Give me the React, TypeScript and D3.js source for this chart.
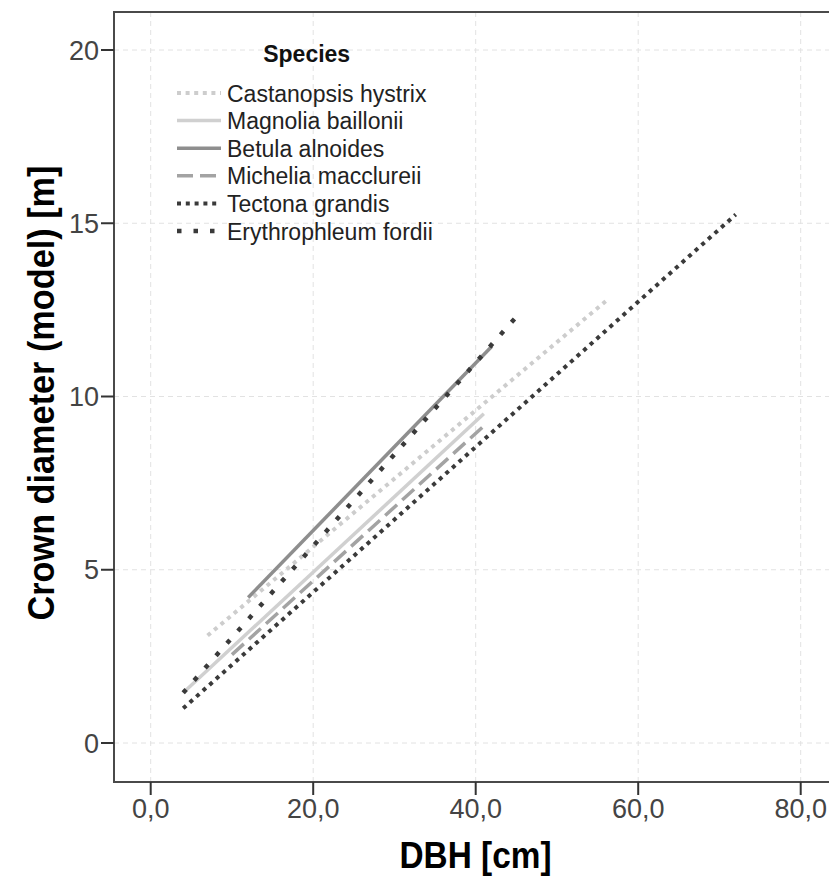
import { useRef, useEffect } from "react";
import * as d3 from "d3";

// species order as in the legend
const species = [
  "Castanopsis hystrix",
  "Magnolia baillonii",
  "Betula alnoides",
  "Michelia macclureii",
  "Tectona grandis",
  "Erythrophleum fordii",
];
// model line end points (DBH cm, crown diameter m)
const dbhStart = [7, 4, 12, 10, 4, 4];
const dbhEnd = [56, 41, 42, 41, 72, 45];
const crownStart = [3.1, 1.45, 4.2, 2.55, 1.0, 1.45];
const crownEnd = [12.75, 9.5, 11.45, 9.15, 15.25, 12.3];

const xTicks = [0, 20, 40, 60, 80];
const yTicks = [0, 5, 10, 15, 20];

const lineStyles = [
  { color: "#cdcdcd", width: 4, dash: "4,4.6" },
  { color: "#d0d0d0", width: 3.5, dash: null },
  { color: "#8e8e8e", width: 3.5, dash: null },
  { color: "#a3a3a3", width: 3.5, dash: "16,7" },
  { color: "#3a3a3a", width: 4, dash: "4,4.8" },
  { color: "#3a3a3a", width: 4.5, dash: "4.5,12" },
];

const W = 829;
const H = 882;

export default function App() {
  const svgRef = useRef(null);

  useEffect(() => {
    document.body.style.margin = "0";
    const svg = d3.select(svgRef.current);
    svg.selectAll("*").remove();

    const left = 114, top = 12, bottom = 782, right = 836;
    const x = d3.scaleLinear().domain([0, 80]).range([150.7, 800.7]);
    const y = d3.scaleLinear().domain([0, 20]).range([743, 50]);

    const font = "'Liberation Sans', Arial, sans-serif";

    // grid
    const grid = svg.append("g");
    grid
      .selectAll(".gx")
      .data(xTicks)
      .enter()
      .append("line")
      .attr("x1", (d) => x(d))
      .attr("x2", (d) => x(d))
      .attr("y1", top)
      .attr("y2", bottom)
      .attr("stroke", "#e2e2e2")
      .attr("stroke-dasharray", "5,4");
    grid
      .selectAll(".gy")
      .data(yTicks)
      .enter()
      .append("line")
      .attr("x1", left)
      .attr("x2", right)
      .attr("y1", (d) => y(d))
      .attr("y2", (d) => y(d))
      .attr("stroke", "#e2e2e2")
      .attr("stroke-dasharray", "5,4");

    // model lines
    const line = d3
      .line<number[]>()
      .x((d) => x(d[0]))
      .y((d) => y(d[1]));
    svg
      .append("g")
      .selectAll("path")
      .data(species)
      .enter()
      .append("path")
      .attr("d", (_, i) =>
        line([
          [dbhStart[i], crownStart[i]],
          [dbhEnd[i], crownEnd[i]],
        ])
      )
      .attr("fill", "none")
      .attr("stroke", (_, i) => lineStyles[i].color)
      .attr("stroke-width", (_, i) => lineStyles[i].width)
      .attr("stroke-dasharray", (_, i) => lineStyles[i].dash);

    // frame
    svg
      .append("rect")
      .attr("x", left)
      .attr("y", top)
      .attr("width", right - left)
      .attr("height", bottom - top)
      .attr("fill", "none")
      .attr("stroke", "#4a4a4a")
      .attr("stroke-width", 2);

    // y axis ticks + labels
    const yAxis = svg.append("g");
    yAxis
      .selectAll("line")
      .data(yTicks)
      .enter()
      .append("line")
      .attr("x1", left - 13)
      .attr("x2", left)
      .attr("y1", (d) => y(d))
      .attr("y2", (d) => y(d))
      .attr("stroke", "#333")
      .attr("stroke-width", 2);
    yAxis
      .selectAll("text")
      .data(yTicks)
      .enter()
      .append("text")
      .attr("x", left - 15)
      .attr("y", (d) => y(d) + 9.5)
      .attr("text-anchor", "end")
      .attr("font-family", font)
      .attr("font-size", 27)
      .attr("fill", "#444")
      .text((d) => d);

    // x axis ticks + labels
    const xAxis = svg.append("g");
    xAxis
      .selectAll("line")
      .data(xTicks)
      .enter()
      .append("line")
      .attr("x1", (d) => x(d))
      .attr("x2", (d) => x(d))
      .attr("y1", bottom)
      .attr("y2", bottom + 13)
      .attr("stroke", "#333")
      .attr("stroke-width", 2);
    xAxis
      .selectAll("text")
      .data(xTicks)
      .enter()
      .append("text")
      .attr("x", (d) => x(d))
      .attr("y", 818)
      .attr("text-anchor", "middle")
      .attr("font-family", font)
      .attr("font-size", 27)
      .attr("fill", "#444")
      .text((d) => d3.format(".1f")(d).replace(".", ","));

    // axis titles
    svg
      .append("text")
      .attr("x", 475.5)
      .attr("y", 868)
      .attr("text-anchor", "middle")
      .attr("font-family", font)
      .attr("font-weight", "bold")
      .attr("font-size", 37)
      .attr("textLength", 152)
      .attr("lengthAdjust", "spacingAndGlyphs")
      .text("DBH [cm]");
    svg
      .append("text")
      .attr("transform", "translate(54,393) rotate(-90)")
      .attr("text-anchor", "middle")
      .attr("font-family", font)
      .attr("font-weight", "bold")
      .attr("font-size", 37)
      .attr("textLength", 455)
      .attr("lengthAdjust", "spacingAndGlyphs")
      .text("Crown diameter (model) [m]");

    // legend
    const legend = svg.append("g");
    legend
      .append("text")
      .attr("x", 306.7)
      .attr("y", 62)
      .attr("text-anchor", "middle")
      .attr("font-family", font)
      .attr("font-weight", "bold")
      .attr("font-size", 23)
      .attr("fill", "#111")
      .text("Species");
    const items = legend
      .selectAll(".legend-item")
      .data(species)
      .enter()
      .append("g")
      .attr("class", "legend-item")
      .attr("transform", (_, i) => `translate(0, ${93 + i * 27.6})`);
    items
      .append("line")
      .attr("x1", 177)
      .attr("x2", 221)
      .attr("y1", 0)
      .attr("y2", 0)
      .attr("stroke", (_, i) => lineStyles[i].color)
      .attr("stroke-width", (_, i) => lineStyles[i].width)
      .attr("stroke-dasharray", (_, i) => lineStyles[i].dash);
    items
      .append("text")
      .attr("x", 227)
      .attr("y", 8.5)
      .attr("font-family", font)
      .attr("font-size", 23)
      .attr("fill", "#222")
      .text((d) => d);
  }, []);

  return (
    <svg
      ref={svgRef}
      width={W}
      height={H}
      style={{ display: "block", background: "#fff" }}
    ></svg>
  );
}
